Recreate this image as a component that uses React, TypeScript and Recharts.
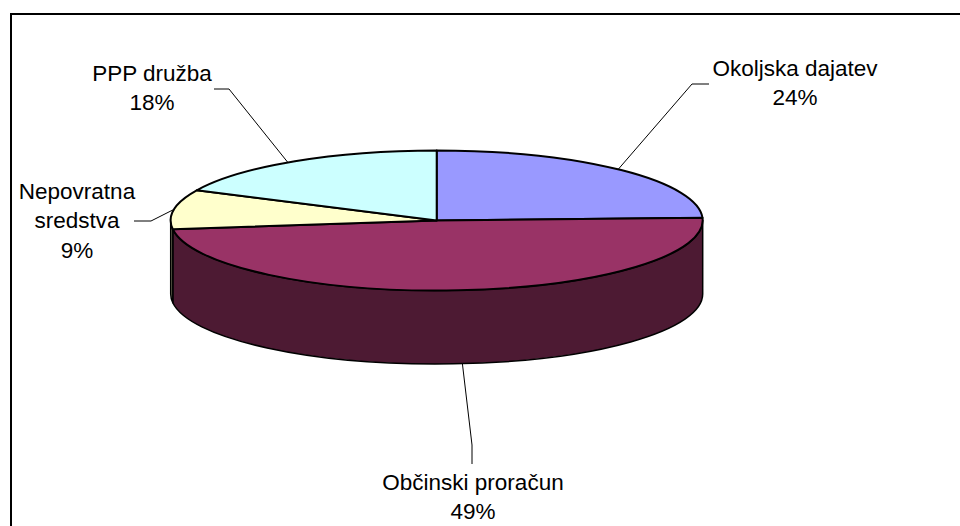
import React from "react";
import { PieChart, Pie } from "recharts";

const categories = ["Okoljska dajatev", "Občinski proračun", "Nepovratna sredstva", "PPP družba"];
const shares = [24.4, 48.6, 9.1, 17.9];
const topColors = ["#9999FF", "#993366", "#FFFFCC", "#CCFFFF"];
const sideColors = ["#4D4D80", "#4D1A33", "#808066", "#668080"];

const topRows = categories.map((name, i) => ({ name, value: shares[i], fill: topColors[i] }));
const sideRows = categories.map((name, i) => ({ name, value: shares[i], fill: sideColors[i] }));

const W = 960;
const H = 526;
const CX = 436.7;
const CY = 220.5;
const RX = 266;
const RY = 70;
const DEPTH = 73.5;
const FONT = "'Liberation Sans', Arial, sans-serif";
const FONT_SIZE = 22.5;
const LINE_GAP = 29.3;

// Text block layout and leader-line routing for each slice.
const labelLayout = [
  { x: 795, y: 76, lines: ["Okoljska dajatev"], route: [[692, 84], [709, 84]], drop: 0, shift: -3 },
  { x: 473, y: 490, lines: ["Občinski proračun"], route: [[472, 445], [472, 464]], drop: DEPTH, shift: 4 },
  { x: 77, y: 199, lines: ["Nepovratna", "sredstva"], route: [[151, 221], [134, 221]], drop: 0, shift: 0 },
  { x: 152, y: 81, lines: ["PPP družba"], route: [[229, 89], [214, 89]], drop: 0, shift: -7 },
];

const px = (deg: number) => CX + RX * Math.cos((deg * Math.PI) / 180);
const py = (deg: number) => CY - RY * Math.sin((deg * Math.PI) / 180);

function TopSlice(props: any) {
  const { startAngle: a, endAngle: b, fill } = props;
  const large = Math.abs(a - b) > 180 ? 1 : 0;
  const d = `M${CX},${CY} L${px(a)},${py(a)} A${RX},${RY} 0 ${large} 1 ${px(b)},${py(b)} Z`;
  return <path d={d} fill={fill} stroke="#000" strokeWidth={2} strokeLinejoin="round" />;
}

function SideSlice(props: any) {
  const { startAngle, endAngle, fill } = props;
  const hi = Math.min(startAngle, 0);
  const lo = Math.max(endAngle, -180);
  if (lo >= hi) return <g />;
  const large = hi - lo > 180 ? 1 : 0;
  const d =
    `M${px(hi)},${py(hi)} A${RX},${RY} 0 ${large} 1 ${px(lo)},${py(lo)} ` +
    `L${px(lo)},${py(lo) + DEPTH} A${RX},${RY} 0 ${large} 0 ${px(hi)},${py(hi) + DEPTH} Z`;
  return <path d={d} fill={fill} stroke="#000" strokeWidth={1.5} strokeLinejoin="round" />;
}

function SliceLabel(props: any) {
  const { index, midAngle, value, name } = props;
  const spec = labelLayout[index];
  const ax = px(midAngle) + spec.shift;
  const ay = CY - RY * Math.sqrt(Math.max(0, 1 - ((ax - CX) / RX) ** 2)) * Math.sign(Math.sin((midAngle * Math.PI) / 180)) + spec.drop;
  const points = [[ax, ay], ...spec.route].map((p) => p.join(",")).join(" ");
  const rows = [...spec.lines, `${Math.round(value)}%`];
  return (
    <g data-name={name}>
      <polyline points={points} fill="none" stroke="#000" strokeWidth={1} />
      <text x={spec.x} y={spec.y} textAnchor="middle" fontFamily={FONT} fontSize={FONT_SIZE} fill="#000">
        {rows.map((row, i) => (
          <tspan key={i} x={spec.x} y={spec.y + i * LINE_GAP}>
            {row}
          </tspan>
        ))}
      </text>
    </g>
  );
}

export default function App() {
  return (
    <div style={{ position: "absolute", left: 0, top: 0, width: W, height: H, background: "#fff", overflow: "hidden" }}>
      <div
        style={{
          position: "absolute",
          left: 9.5,
          top: 12.5,
          width: W,
          height: H,
          borderLeft: "2px solid #000",
          borderTop: "2px solid #000",
        }}
      />
      <div style={{ position: "absolute", left: 0, top: 0 }}>
        <PieChart width={W} height={H} margin={{ top: 0, right: 0, bottom: 0, left: 0 }}>
          <Pie
            data={sideRows}
            dataKey="value"
            nameKey="name"
            cx={CX}
            cy={CY}
            outerRadius={RX}
            startAngle={90}
            endAngle={-270}
            stroke="none"
            shape={SideSlice}
            isAnimationActive={false}
            label={false}
            labelLine={false}
          />
          <Pie
            data={topRows}
            dataKey="value"
            nameKey="name"
            cx={CX}
            cy={CY}
            outerRadius={RX}
            startAngle={90}
            endAngle={-270}
            stroke="none"
            shape={TopSlice}
            isAnimationActive={false}
            label={SliceLabel}
            labelLine={false}
          />
        </PieChart>
      </div>
    </div>
  );
}
